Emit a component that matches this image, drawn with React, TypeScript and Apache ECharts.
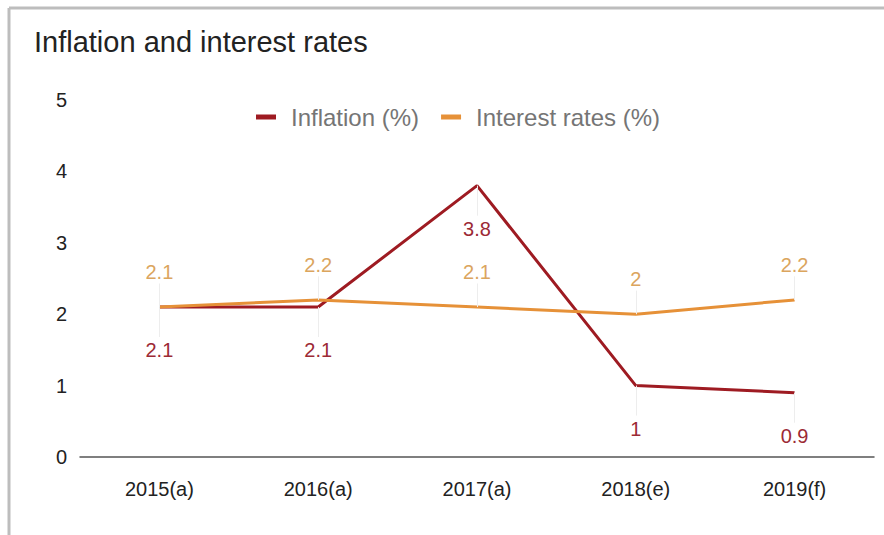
import React, { useEffect, useRef } from "react";
import * as echarts from "echarts";

const categories = ["2015(a)", "2016(a)", "2017(a)", "2018(e)", "2019(f)"];
const inflation = [2.1, 2.1, 3.8, 1, 0.9];
const interestRates = [2.1, 2.2, 2.1, 2, 2.2];
const seriesNames = ["Inflation (%)", "Interest rates (%)"];

function stems(values: number[], delta: number) {
  return values.map((v, i) => [
    { coord: [i, v] },
    { coord: [i, v + delta] },
  ]);
}

export default function App() {
  const ref = useRef<HTMLDivElement>(null);
  useEffect(() => {
    if (!ref.current) return;
    const chart = echarts.init(ref.current, null, { renderer: "svg" });
    const font = "'Liberation Sans', Arial, sans-serif";
    const stemStyle = {
      silent: true,
      symbol: "none",
      label: { show: false },
      emphasis: { disabled: true },
      lineStyle: { color: "#ededed", width: 1, type: "solid" },
    };
    chart.setOption({
      animation: false,
      backgroundColor: "#ffffff",
      title: {
        text: "Inflation and interest rates",
        left: 29,
        top: 22,
        textStyle: { fontFamily: font, fontSize: 29, fontWeight: "normal", color: "#222222" },
      },
      legend: {
        left: 251,
        top: 100,
        itemWidth: 20,
        itemHeight: 5,
        itemGap: 22,
        icon: "rect",
        textStyle: { fontFamily: font, fontSize: 24, color: "#757575", padding: [0, 0, 0, 10] },
        data: seriesNames,
      },
      graphic: [
        { type: "line", shape: { x1: 9, y1: 8, x2: 884, y2: 8 }, style: { stroke: "#bdbdbd", lineWidth: 3 } },
        { type: "line", shape: { x1: 9, y1: 8, x2: 9, y2: 535 }, style: { stroke: "#bdbdbd", lineWidth: 3 } },
      ],
      grid: { left: 80, right: 10, top: 100, bottom: 78 },
      xAxis: {
        type: "category",
        data: categories,
        boundaryGap: true,
        axisLine: { lineStyle: { color: "#555555", width: 1.5 } },
        axisTick: { show: false },
        axisLabel: { fontFamily: font, fontSize: 20, color: "#222222", margin: 22 },
      },
      yAxis: {
        type: "value",
        min: 0,
        max: 5,
        interval: 1,
        splitLine: { show: false },
        axisLine: { show: false },
        axisTick: { show: false },
        axisLabel: { fontFamily: font, fontSize: 20, color: "#222222", margin: 13 },
      },
      series: [
        {
          name: seriesNames[0],
          type: "line",
          data: inflation,
          color: "#9e1b22",
          symbol: "circle",
          symbolSize: 0,
          showSymbol: true,
          z: 2,
          lineStyle: { width: 3, color: "#9e1b22" },
          label: {
            show: true,
            position: "bottom",
            distance: 33,
            fontFamily: font,
            fontSize: 20,
            color: "#9c2a35",
          },
          markLine: { ...stemStyle, data: stems(inflation, -0.42) },
        },
        {
          name: seriesNames[1],
          type: "line",
          data: interestRates,
          color: "#e69138",
          symbol: "circle",
          symbolSize: 0,
          showSymbol: true,
          z: 3,
          lineStyle: { width: 3, color: "#e69138" },
          label: {
            show: true,
            position: "top",
            distance: 25,
            fontFamily: font,
            fontSize: 20,
            color: "#dba55e",
          },
          markLine: { ...stemStyle, data: stems(interestRates, 0.33) },
        },
      ],
    });
    return () => chart.dispose();
  }, []);
  return (
    <div
      ref={ref}
      style={{ position: "fixed", left: 0, top: 0, width: 884, height: 535 }}
    />
  );
}
